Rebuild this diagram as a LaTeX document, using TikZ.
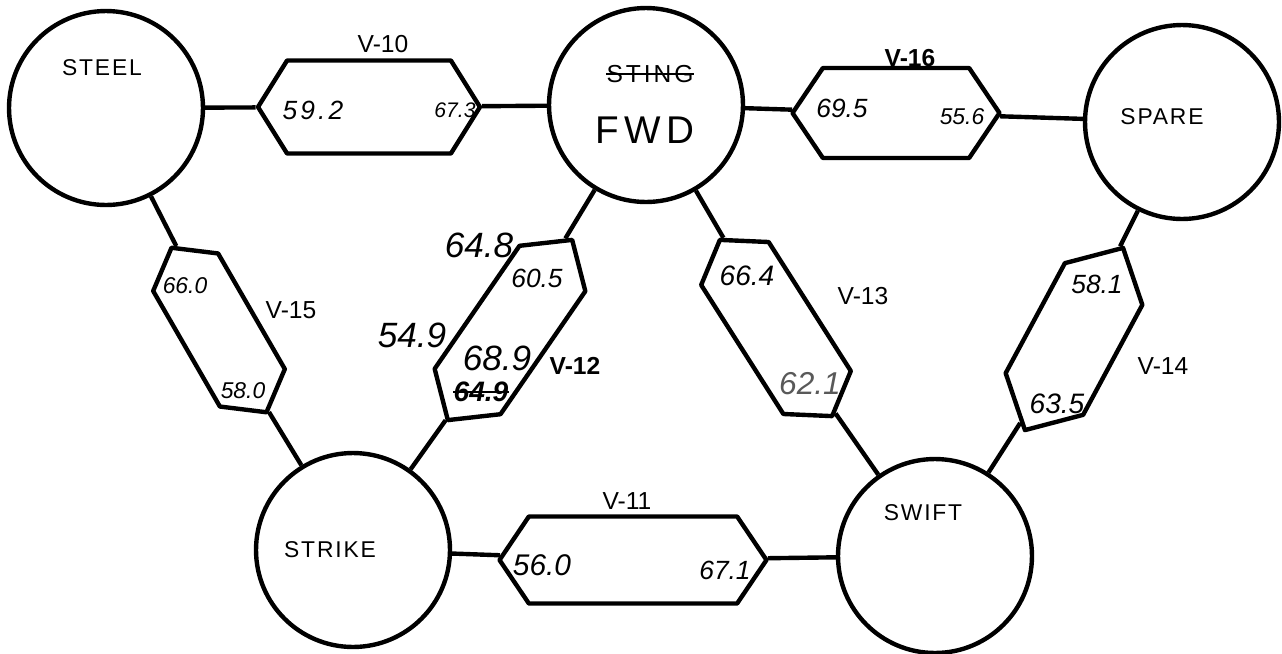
\documentclass[tikz,border=0pt]{standalone}
\usepackage{fontspec}
\setmainfont{Liberation Sans}
\usetikzlibrary{shapes.symbols}
\newcommand{\tanksize}{3.88cm}
\newcommand{\inkwidth}{2.5pt}

\tikzset{
  tank/.style={draw, circle, minimum size=\tanksize, inner sep=0pt, line width=\inkwidth},
  valve/.style={draw, signal, signal to=east and west, signal pointer angle=112,
    inner sep=0pt, line width=\inkwidth, line join=round},
  pipe/.style={line width=\inkwidth},
  tankname/.style={font=\fontsize{13}{13}\selectfont\addfontfeatures{LetterSpace=8}, inner sep=0pt},
  tag/.style={font=\fontsize{14}{14}\selectfont, inner sep=0pt},
  num/.style={font=\fontsize{15}{15}\selectfont\itshape, inner sep=0pt},
  bignum/.style={font=\fontsize{20}{20}\selectfont\itshape, inner sep=0pt},
}

\begin{document}
\begin{tikzpicture}[x=0.02cm, y=-0.02cm]
    % tanks and cross-connect valves
        \useasboundingbox (0,0) rectangle (1282,653);

        \node (steel)  at (106,108) [tank] {};
        \node (sting)  at (646,105) [tank] {};
        \node (spare)  at (1182,122) [tank] {};
        \node (strike) at (353,550) [tank] {};
        \node (swift)  at (935,556) [tank] {};

        \node (v10) at (369,107) [valve, minimum width=4.44cm, minimum height=1.86cm, signal pointer angle=116] {};
        \node (v16) at (896,113) [valve, minimum width=4.14cm, minimum height=1.8cm] {};
        \node (v11) at (633,560) [valve, minimum width=5.34cm, minimum height=1.74cm] {};
        \node (v15) at (219,330) [valve, minimum width=3.8cm, minimum height=1.5cm, rotate=-60, signal pointer angle=106] {};
        \node (v13) at (776,328) [valve, minimum width=4.18cm, minimum height=1.6cm, rotate=-57.5, signal pointer angle=110] {};
        \node (v12) at (510,330) [valve, minimum width=4.38cm, minimum height=1.6cm, rotate=55.4, signal pointer angle=98] {};
        \node (v14) at (1074,339) [valve, minimum width=4.14cm, minimum height=1.76cm, rotate=61.7, signal pointer angle=94] {};

        \draw[pipe]
        (steel) to (v10) to (sting) to (v16) to (spare)
        (steel) to (v15) to (strike) to (v11) to (swift)
        (sting) to (v12) to (strike)
        (sting) to (v13) to (swift)
        (spare) to (v14) to (swift);

        \node (steelname)  at (102,68)  [tankname] {STEEL};
        \node (stingname)  at (650,74)  [tankname, font=\fontsize{14}{14}\selectfont\addfontfeatures{LetterSpace=12}] {STING};
        \node (fwdname)    at (645,130) [font=\fontsize{22}{22}\selectfont\addfontfeatures{LetterSpace=15}, inner sep=0pt] {FWD};
        \node (sparename)  at (1162,117) [tankname] {SPARE};
        \node (strikename) at (330,550) [tankname] {STRIKE};
        \node (swiftname)  at (923,513) [tankname] {SWIFT};
        \draw[line width=1.2pt] (stingname.west) -- (stingname.east);

        \node (v10tag) at (383,44)   [tag] {V-10};
        \node (v16tag) at (910,58)   [tag, font=\fontsize{14}{14}\selectfont\bfseries] {V-16};
        \node (v11tag) at (627,501)  [tag] {V-11};
        \node (v15tag) at (291,310)  [tag] {V-15};
        \node (v13tag) at (863,296)  [tag] {V-13};
        \node (v12tag) at (575,366)  [tag, font=\fontsize{14}{14}\selectfont\bfseries] {V-12};
        \node (v14tag) at (1163,366) [tag] {V-14};

        \node (v10a) at (313,110)  [num, font=\fontsize{15}{15}\selectfont\itshape\addfontfeatures{LetterSpace=12}] {59.2};
        \node (v10b) at (455,110)  [num, font=\fontsize{12}{12}\selectfont\itshape] {67.3};
        \node (v16a) at (842,108)  [num] {69.5};
        \node (v16b) at (962,117)  [num, font=\fontsize{13}{13}\selectfont\itshape] {55.6};
        \node (v11a) at (542,565)  [num, font=\fontsize{17}{17}\selectfont\itshape] {56.0};
        \node (v11b) at (725,570)  [num] {67.1};
        \node (v15a) at (185,286)  [num, font=\fontsize{13}{13}\selectfont\itshape] {66.0};
        \node (v15b) at (243,391)  [num, font=\fontsize{13}{13}\selectfont\itshape] {58.0};
        \node (v12a) at (479,245)  [bignum] {64.8};
        \node (v12b) at (537,278)  [num] {60.5};
        \node (v12c) at (412,335)  [bignum] {54.9};
        \node (v12d) at (497,358)  [bignum] {68.9};
        \node (v12e) at (481,392)  [num, font=\fontsize{16}{16}\selectfont\itshape\bfseries] {64.9};
        \node (v13a) at (747,276)  [num, font=\fontsize{16}{16}\selectfont\itshape] {66.4};
        \node (v13b) at (810,384)  [num, font=\fontsize{18}{18}\selectfont\itshape, text=black!65] {62.1};
        \node (v14a) at (1097,284) [num] {58.1};
        \node (v14b) at (1057,404) [num, font=\fontsize{16}{16}\selectfont\itshape] {63.5};
        \draw[line width=1.5pt] (v12e.west) -- (v12e.east);

  \end{tikzpicture}
\end{document}
